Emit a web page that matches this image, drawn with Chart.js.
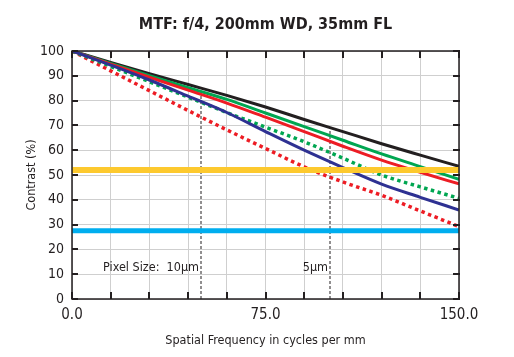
<!DOCTYPE html>
<html><head><meta charset="utf-8">
<script src="https://cdn.jsdelivr.net/npm/chart.js@4"></script>
<style>html,body{margin:0;padding:0;background:#fff}#wrap{width:514px;height:357px}</style>
</head><body><div id="wrap"><canvas id="c" width="514" height="357"></canvas></div>
<script>
const freqs = [0, 15, 30, 45, 60, 75, 90, 105, 120, 135, 150];
const blackSolid = [100, 95.4, 90.9, 86.5, 82.1, 77.4, 72.4, 67.5, 62.6, 58, 53.5];
const greenSolid = [100, 95, 90, 85.2, 80.5, 75, 69.5, 64, 58.5, 53.4, 48.3];
const redSolid = [100, 94.7, 89.4, 84.2, 79, 73.3, 67.5, 61.6, 56, 51.1, 46.4];
const greenDotted = [100, 93.8, 87.6, 81.4, 75.2, 69.3, 63.4, 56.8, 50, 45.2, 40.6];
const blueSolid = [100, 94.3, 88.3, 81.8, 75.2, 67.5, 60, 53, 46.3, 41, 35.9];
const redDotted = [100, 92, 84, 76, 68.2, 60.7, 53.3, 47.2, 41.8, 35.5, 29.2];
const yellowLevel = 52;
const blueLevel = 27.5;
const pixelMarks = [50, 100];
const pixelMarkTops = [85, 69];
const pixelLabels = ['Pixel Size:  10\u00b5m', '5\u00b5m'];
const pixelLabelY = 12.5;
const xTickLabels = [0, 75, 150];
const titleText = 'MTF: f/4, 200mm WD, 35mm FL';

const FONT = '"DejaVu Sans Condensed", "Liberation Sans Narrow", "DejaVu Sans", sans-serif';
const pts = arr => freqs.map((f, i) => ({x: f, y: arr[i]}));

const datasets = [
  {data: [{x: freqs[0], y: yellowLevel}, {x: freqs[freqs.length-1], y: yellowLevel}], borderColor: '#fdc92e', borderWidth: 6},
  {data: [{x: freqs[0], y: blueLevel}, {x: freqs[freqs.length-1], y: blueLevel}], borderColor: '#00aeef', borderWidth: 5},
  {data: pts(blueSolid), borderColor: '#2e3192', borderWidth: 3, cubicInterpolationMode: 'monotone'},
  {data: pts(greenDotted), borderColor: '#00a651', borderWidth: 3.5, borderDash: [3.5, 3.5], cubicInterpolationMode: 'monotone'},
  {data: pts(redDotted), borderColor: '#ed1c24', borderWidth: 3.5, borderDash: [3.5, 3.5], cubicInterpolationMode: 'monotone'},
  {data: pts(redSolid), borderColor: '#ed1c24', borderWidth: 3, cubicInterpolationMode: 'monotone'},
  {data: pts(greenSolid), borderColor: '#00a651', borderWidth: 3, cubicInterpolationMode: 'monotone'},
  {data: pts(blackSolid), borderColor: '#231f20', borderWidth: 3, cubicInterpolationMode: 'monotone'},
];
pixelMarks.forEach((m, i) => {
  datasets.push({data: [{x: m, y: 0}, {x: m, y: pixelMarkTops[i]}], borderColor: '#231f20', borderWidth: 1, borderDash: [3, 2]});
});
datasets.forEach(d => { d.pointRadius = 0; d.fill = false; d.borderCapStyle = 'butt'; });

const framePlugin = {
  id: 'frame',
  afterDatasetsDraw(chart) {
    const {ctx, chartArea: a, scales} = chart;
    ctx.save();
    ctx.strokeStyle = '#231f20';
    ctx.lineWidth = 2;
    const xs = scales.x, ys = scales.y;
    xs.ticks.forEach(t => {
      const px = Math.round(xs.getPixelForValue(t.value));
      ctx.beginPath(); ctx.moveTo(px, a.bottom); ctx.lineTo(px, a.bottom - 7); ctx.stroke();
      ctx.beginPath(); ctx.moveTo(px, a.top); ctx.lineTo(px, a.top + 7); ctx.stroke();
    });
    ys.ticks.forEach(t => {
      const py = Math.round(ys.getPixelForValue(t.value));
      ctx.beginPath(); ctx.moveTo(a.left, py); ctx.lineTo(a.left + 6, py); ctx.stroke();
      ctx.beginPath(); ctx.moveTo(a.right + 1, py); ctx.lineTo(a.right - 6, py); ctx.stroke();
    });
    ctx.lineWidth = 1.5;
    ctx.strokeRect(a.left, a.top, a.right - a.left, a.bottom - a.top);
    ctx.fillStyle = '#231f20';
    ctx.font = '12.5px ' + FONT;
    ctx.textAlign = 'right';
    ctx.textBaseline = 'middle';
    pixelMarks.forEach((m, i) => {
      ctx.fillText(pixelLabels[i], xs.getPixelForValue(m) - 2, ys.getPixelForValue(pixelLabelY));
    });
    ctx.restore();
  }
};

new Chart(document.getElementById('c'), {
  type: 'line',
  data: {datasets},
  plugins: [framePlugin],
  options: {
    responsive: false,
    animation: false,
    devicePixelRatio: 1,
    layout: {padding: {left: 24.5, right: 55, top: 0, bottom: 8.5}},
    plugins: {
      legend: {display: false},
      tooltip: {enabled: false},
      title: {
        display: true, text: titleText, fullSize: false, color: '#231f20',
        font: {family: FONT, size: 16, weight: 'bold', lineHeight: 1.2},
        padding: {top: 15.5, bottom: 16.3}
      }
    },
    scales: {
      x: {
        type: 'linear', min: 0, max: 150,
        afterFit(s) { s.height = 49.5; },
        grid: {color: '#cfcfcf', lineWidth: 1, drawTicks: false},
        border: {display: false},
        ticks: {
          stepSize: 15, autoSkip: false, maxRotation: 0, padding: 7, color: '#231f20',
          font: {family: FONT, size: 15},
          callback: v => xTickLabels.includes(v) ? v.toFixed(1) : ''
        },
        title: {display: true, text: 'Spatial Frequency in cycles per mm', color: '#231f20', font: {family: FONT, size: 12.5}, padding: {top: 0, bottom: 0}}
      },
      y: {
        min: 0, max: 100,
        afterFit(s) { s.width = 47.5; },
        grid: {color: '#cfcfcf', lineWidth: 1, drawTicks: false},
        border: {display: false},
        ticks: {stepSize: 10, padding: 8, color: '#231f20', font: {family: FONT, size: 14}},
        title: {display: true, text: 'Contrast (%)', color: '#231f20', font: {family: FONT, size: 12.5}, padding: {top: 0, bottom: 0}}
      }
    }
  }
});
</script></body></html>
